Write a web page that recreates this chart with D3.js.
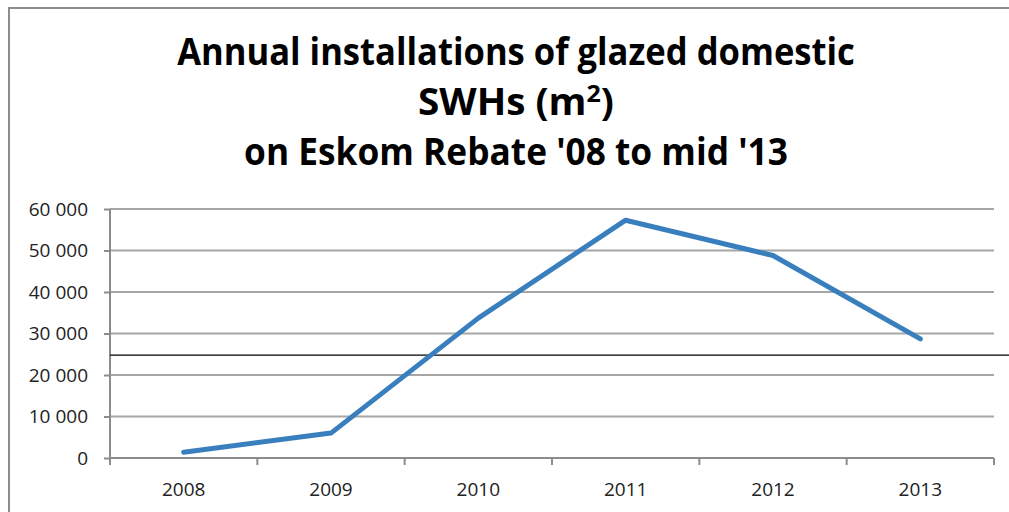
<!DOCTYPE html>
<meta charset="utf-8">
<script src="https://d3js.org/d3.v7.min.js"></script>
<style>
  body { margin: 0; background: #fff; }
  text { font-family: "Open Sans", "Noto Sans", sans-serif; }
</style>
<div id="my_dataviz"></div>
<script>

// data
var years = ["2008", "2009", "2010", "2011", "2012", "2013"];
var installs = [1400, 6000, 33700, 57300, 48800, 28700];
var yTicks = [0, 10000, 20000, 30000, 40000, 50000, 60000];
var refValue = 24800;
var titleLines = ["Annual installations of glazed domestic", "SWHs (m", "on Eskom Rebate '08 to mid '13"];

var W = 1009, H = 512;
var margin = {top: 209, right: 15, bottom: 54, left: 110},
    width = W - margin.left - margin.right,
    height = H - margin.top - margin.bottom;

var svg = d3.select("#my_dataviz")
  .append("svg")
    .attr("width", W)
    .attr("height", H);

// outer chart border (only top and left are visible in the crop)
svg.append("path")
  .attr("d", "M9,520 L9,8 L1020,8")
  .attr("fill", "none")
  .attr("stroke", "#8c8c8c")
  .attr("stroke-width", 2);

// title
var title = svg.append("g");
var titleX = 516;
var titleY = [65, 115, 165];
var titleW = [678, 196, 544];
titleLines.forEach(function(t, i) {
  var g = title.append("g");
  var tx = g.append("text")
    .attr("x", 0)
    .attr("y", 0)
    .attr("text-anchor", "middle")
    .attr("font-size", 37)
    .attr("font-weight", "bold")
    .attr("fill", "#000");
  tx.append("tspan").text(t);
  if (i === 1) {
    tx.append("tspan").attr("font-size", 24).attr("dy", -13).text("2");
    tx.append("tspan").attr("dy", 13).text(")");
  }
  var bw = tx.node().getBBox().width;
  g.attr("transform", "translate(" + titleX + "," + titleY[i] + ") scale(" + (titleW[i] / bw) + ",1)");
});

var plot = svg.append("g")
  .attr("transform", "translate(" + margin.left + "," + margin.top + ")");

// scales
var x = d3.scaleBand()
  .domain(years)
  .range([0, width]);

var y = d3.scaleLinear()
  .domain([0, 60000])
  .range([height, 0]);

// gridlines
plot.append("g")
  .selectAll("line")
  .data(yTicks.filter(function(d) { return d > 0; }))
  .enter()
  .append("line")
    .attr("x1", 0)
    .attr("x2", width)
    .attr("y1", function(d) { return y(d); })
    .attr("y2", function(d) { return y(d); })
    .attr("stroke", "#a6a6a6")
    .attr("stroke-width", 2);

// Y axis
var yAxis = plot.append("g")
  .call(d3.axisLeft(y).tickValues(yTicks).tickSize(6).tickPadding(16)
    .tickFormat(function(d) { return d3.format(",")(d).replace(/,/g, " "); }));
yAxis.select(".domain").attr("stroke", "#8c8c8c").attr("stroke-width", 2)
  .attr("d", "M0," + (height + 6) + "V0");
yAxis.selectAll(".tick line").attr("stroke", "#8c8c8c").attr("stroke-width", 2);
yAxis.selectAll(".tick text")
  .attr("font-size", 19)
  .attr("fill", "#222")
  .style("font-family", "'Open Sans', sans-serif");

// X axis (ticks on category boundaries)
var xAxisG = plot.append("g")
  .attr("transform", "translate(0," + height + ")");
xAxisG.append("line")
  .attr("x1", 0).attr("x2", width)
  .attr("stroke", "#8c8c8c").attr("stroke-width", 2);
xAxisG.selectAll(".bt")
  .data(years.concat(["end"]))
  .enter()
  .append("line")
    .attr("class", "bt")
    .attr("x1", function(d, i) { return i * x.step(); })
    .attr("x2", function(d, i) { return i * x.step(); })
    .attr("y1", 0).attr("y2", 7)
    .attr("stroke", "#8c8c8c").attr("stroke-width", 2);
xAxisG.selectAll(".lbl")
  .data(years)
  .enter()
  .append("text")
    .attr("class", "lbl")
    .attr("x", function(d) { return x(d) + x.bandwidth() / 2; })
    .attr("y", 38)
    .attr("text-anchor", "middle")
    .attr("font-size", 19)
    .attr("fill", "#222")
    .text(function(d) { return d; });

// reference line
plot.append("line")
  .attr("x1", 0)
  .attr("x2", W - margin.left)
  .attr("y1", y(refValue))
  .attr("y2", y(refValue))
  .attr("stroke", "#000")
  .attr("stroke-width", 1.3);

// series line
var line = d3.line()
  .x(function(d, i) { return x(years[i]) + x.bandwidth() / 2; })
  .y(function(d) { return y(d); });

plot.append("path")
  .datum(installs)
  .attr("d", line)
  .attr("fill", "none")
  .attr("stroke", "#3a7fbd")
  .attr("stroke-width", 5)
  .attr("stroke-linejoin", "round")
  .attr("stroke-linecap", "round");

</script>
